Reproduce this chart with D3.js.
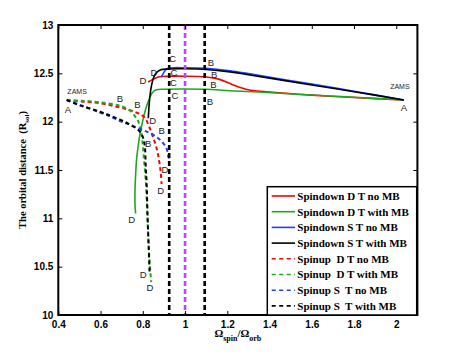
<!DOCTYPE html>
<html>
<head>
<meta charset="utf-8">
<script src="https://cdn.jsdelivr.net/npm/d3@7"></script>
<style>
  body { margin: 0; background: #fff; }
  text { white-space: pre; }
</style>
</head>
<body>
<div id="chart"></div>
<script>
// Data
const xTicks = [0.4, 0.6, 0.8, 1, 1.2, 1.4, 1.6, 1.8, 2];
const yTicks = [10, 10.5, 11, 11.5, 12, 12.5, 13];

const seriesNames = [
  "Spindown D T no MB", "Spindown D T with MB", "Spindown S T no MB", "Spindown S T with MB",
  "Spinup  D T no MB", "Spinup  D T with MB", "Spinup S  T no MB", "Spinup S  T with MB"
];
const seriesColors = ["#ff0000", "#1fa81f", "#1f3fff", "#000000", "#ff0000", "#1fa81f", "#1f3fff", "#000000"];
const seriesDashed = [false, false, false, false, true, true, true, true];

const spindownDNoMB = [[2.036, 12.224], [1.8, 12.25], [1.6, 12.275], [1.386, 12.31], [1.3, 12.33],
  [1.228, 12.38], [1.16, 12.44], [1.1, 12.462], [1.0, 12.47], [0.9, 12.468], [0.87, 12.46], [0.845, 12.435], [0.825, 12.41]];
const spindownDWithMB = [[2.036, 12.224], [1.844, 12.248], [1.686, 12.266], [1.528, 12.283], [1.37, 12.304],
  [1.213, 12.32], [1.1, 12.335], [1.0, 12.338], [0.9, 12.336], [0.865, 12.33], [0.845, 12.3], [0.83, 12.23],
  [0.818, 12.16], [0.805, 12.06], [0.795, 11.96], [0.785, 11.85], [0.777, 11.73], [0.771, 11.62],
  [0.766, 11.45], [0.763, 11.28], [0.763, 11.15], [0.766, 11.05]];
const spindownSNoMB = [[2.036, 12.224], [1.8, 12.315], [1.6, 12.388], [1.307, 12.494], [1.213, 12.526],
  [1.1, 12.552], [1.0, 12.558], [0.93, 12.556], [0.912, 12.545], [0.9, 12.51], [0.887, 12.46]];
const spindownSWithMB = [[2.036, 12.224], [1.8, 12.31], [1.6, 12.38], [1.307, 12.483], [1.213, 12.515],
  [1.1, 12.54], [1.0, 12.547], [0.921, 12.545], [0.882, 12.535], [0.862, 12.5], [0.85, 12.449],
  [0.84, 12.36], [0.833, 12.25], [0.829, 12.14], [0.826, 12.035]];
const spinupDNoMB = [[0.44, 12.224], [0.518, 12.207], [0.6, 12.19], [0.676, 12.155], [0.73, 12.125],
  [0.763, 12.1], [0.79, 12.075], [0.81, 12.04], [0.83, 11.95], [0.85, 11.83], [0.866, 11.72],
  [0.877, 11.6], [0.885, 11.47], [0.889, 11.355]];
const spinupDWithMB = [[0.44, 12.224], [0.51, 12.217], [0.6, 12.2], [0.684, 12.17], [0.72, 12.14],
  [0.747, 12.1], [0.765, 12.05], [0.779, 12.0], [0.79, 11.92], [0.798, 11.8], [0.806, 11.6],
  [0.815, 11.36], [0.822, 11.0], [0.828, 10.7], [0.834, 10.5], [0.84, 10.34]];
const spinupSNoMB = [[0.44, 12.224], [0.52, 12.16], [0.597, 12.095], [0.645, 12.055], [0.692, 12.005],
  [0.731, 11.975], [0.787, 11.925], [0.826, 11.89], [0.866, 11.84], [0.897, 11.776], [0.913, 11.72],
  [0.921, 11.64], [0.929, 11.586]];
const spinupSWithMB = [[0.44, 12.224], [0.5, 12.17], [0.598, 12.103], [0.66, 12.05], [0.731, 11.98],
  [0.787, 11.896], [0.802, 11.83], [0.81, 11.74], [0.814, 11.535], [0.818, 11.37], [0.823, 11.0],
  [0.828, 10.7], [0.832, 10.445]];

const seriesValues = [spindownDNoMB, spindownDWithMB, spindownSNoMB, spindownSWithMB,
  spinupDNoMB, spinupDWithMB, spinupSNoMB, spinupSWithMB];

// vertical reference lines
const refLines = [0.925, 1.0, 1.093];
const refColors = ["#000000", "#bf40ff", "#000000"];

// point labels [text, x, y]
const pointLabels = [
  ["A", 0.446, 12.12], ["A", 2.036, 12.141],
  ["C", 0.941, 12.656], ["C", 0.948, 12.507], ["C", 0.945, 12.4], ["C", 0.952, 12.27],
  ["B", 1.123, 12.612], ["B", 1.138, 12.49], ["B", 1.134, 12.385], ["B", 1.118, 12.205],
  ["B", 0.692, 12.234], ["B", 0.774, 12.18], ["B", 0.889, 11.903], ["B", 0.826, 11.776],
  ["D", 0.801, 12.42], ["D", 0.853, 12.503], ["D", 0.847, 12.01], ["D", 0.747, 10.983],
  ["D", 0.885, 11.283], ["D", 0.905, 11.5], ["D", 0.802, 10.42], ["D", 0.834, 10.28]
];
const zamsLabels = [[0.489, 12.317], [2.017, 12.359]];

// Setup
const width = 463, height = 361;
const plot = { left: 58.3, right: 417.4, top: 25, bottom: 315 };

const svg = d3.select("#chart").append("svg")
  .attr("width", width)
  .attr("height", height)
  .style("background", "#fff");

const x = d3.scaleLinear().domain([0.4, 2.1]).range([plot.left, plot.right]);
const y = d3.scaleLinear().domain([10, 13]).range([plot.bottom, plot.top]);

const serif = "'Liberation Serif', 'Times New Roman', serif";
const sans = "'Liberation Sans', Arial, sans-serif";

// Curves
const line = d3.line()
  .x(d => x(d[0]))
  .y(d => y(d[1]))
  .curve(d3.curveCatmullRom.alpha(0.5));

svg.append("g").selectAll("path")
  .data(seriesValues)
  .join("path")
  .attr("d", line)
  .attr("fill", "none")
  .attr("stroke", (d, i) => seriesColors[i])
  .attr("stroke-width", (d, i) => seriesDashed[i] ? 2 : 1.6)
  .attr("stroke-dasharray", (d, i) => seriesDashed[i] ? "4 3" : null);

// Reference lines
svg.append("g").selectAll("line")
  .data(refLines)
  .join("line")
  .attr("x1", d => x(d)).attr("x2", d => x(d))
  .attr("y1", plot.top).attr("y2", plot.bottom)
  .attr("stroke", (d, i) => refColors[i])
  .attr("stroke-width", 2.6)
  .attr("stroke-dasharray", "5 3");

// Labels
svg.append("g").selectAll("text")
  .data(pointLabels)
  .join("text")
  .attr("x", d => x(d[1]))
  .attr("y", d => y(d[2]))
  .attr("dy", "0.36em")
  .attr("text-anchor", "middle")
  .attr("font-family", sans)
  .attr("font-size", 9.5)
  .attr("fill", "#222")
  .text(d => d[0]);

svg.append("g").selectAll("text")
  .data(zamsLabels)
  .join("text")
  .attr("x", d => x(d[0]))
  .attr("y", d => y(d[1]))
  .attr("dy", "0.36em")
  .attr("text-anchor", "middle")
  .attr("font-family", sans)
  .attr("font-size", 7)
  .attr("fill", "#222")
  .text("ZAMS");

// Axes (MATLAB box with inward ticks)
const tickLen = 4;
const axisG = svg.append("g").attr("font-family", serif).attr("font-weight", "bold").attr("font-size", 11);

axisG.append("g").attr("transform", `translate(0,${plot.bottom})`)
  .call(d3.axisBottom(x).tickValues(xTicks).tickSize(-tickLen).tickPadding(6).tickFormat(d3.format("")))
  .call(g => g.select(".domain").remove());
axisG.append("g").attr("transform", `translate(0,${plot.top})`)
  .call(d3.axisTop(x).tickValues(xTicks).tickSize(-tickLen).tickFormat(""))
  .call(g => g.select(".domain").remove());
axisG.append("g").attr("transform", `translate(${plot.left},0)`)
  .call(d3.axisLeft(y).tickValues(yTicks).tickSize(-tickLen).tickPadding(5).tickFormat(d3.format("")))
  .call(g => g.select(".domain").remove());
axisG.append("g").attr("transform", `translate(${plot.right},0)`)
  .call(d3.axisRight(y).tickValues(yTicks).tickSize(-tickLen).tickFormat(""))
  .call(g => g.select(".domain").remove());

axisG.selectAll(".tick line").attr("stroke", "#000").attr("stroke-width", 1);
axisG.selectAll(".tick text").attr("fill", "#000");

svg.append("rect")
  .attr("x", plot.left).attr("y", plot.top)
  .attr("width", plot.right - plot.left).attr("height", plot.bottom - plot.top)
  .attr("fill", "none").attr("stroke", "#000").attr("stroke-width", 2);

// Axis titles
const xTitle = svg.append("text")
  .attr("x", (plot.left + plot.right) / 2)
  .attr("y", 337)
  .attr("text-anchor", "middle")
  .attr("font-family", serif)
  .attr("font-weight", "bold")
  .attr("font-size", 11);
xTitle.append("tspan").text("Ω");
xTitle.append("tspan").attr("font-size", 8).attr("dy", 4).text("spin");
xTitle.append("tspan").attr("dy", -4).text("/Ω");
xTitle.append("tspan").attr("font-size", 8).attr("dy", 4).text("orb");

const yTitle = svg.append("text")
  .attr("transform", `translate(26,${(plot.top + plot.bottom) / 2}) rotate(-90)`)
  .attr("text-anchor", "middle")
  .attr("font-family", serif)
  .attr("font-weight", "bold")
  .attr("font-size", 10.5);
yTitle.append("tspan").text("The orbital distance  (R");
yTitle.append("tspan").attr("font-size", 7).attr("dy", 3).text("sol");
yTitle.append("tspan").attr("dy", -3).text(")");

// Legend
const legend = { left: 267.3, top: 186.7, right: 416.7, bottom: 315, rowH: 15.7, firstY: 196 };
const lg = svg.append("g");
lg.append("rect")
  .attr("x", legend.left).attr("y", legend.top)
  .attr("width", legend.right - legend.left).attr("height", legend.bottom - legend.top)
  .attr("fill", "#fff").attr("stroke", "#000").attr("stroke-width", 1.5);

const rows = lg.selectAll("g.row")
  .data(seriesNames)
  .join("g")
  .attr("class", "row")
  .attr("transform", (d, i) => `translate(0,${legend.firstY + i * legend.rowH})`);

rows.append("line")
  .attr("x1", 271.7).attr("x2", 295)
  .attr("stroke", (d, i) => seriesColors[i])
  .attr("stroke-width", 1.6)
  .attr("stroke-dasharray", (d, i) => seriesDashed[i] ? "4 3.5" : null);

rows.append("text")
  .attr("x", 297.3)
  .attr("dy", "0.35em")
  .attr("font-family", serif)
  .attr("font-weight", "bold")
  .attr("font-size", 11)
  .attr("fill", "#000")
  .text(d => d);
</script>
</body>
</html>
